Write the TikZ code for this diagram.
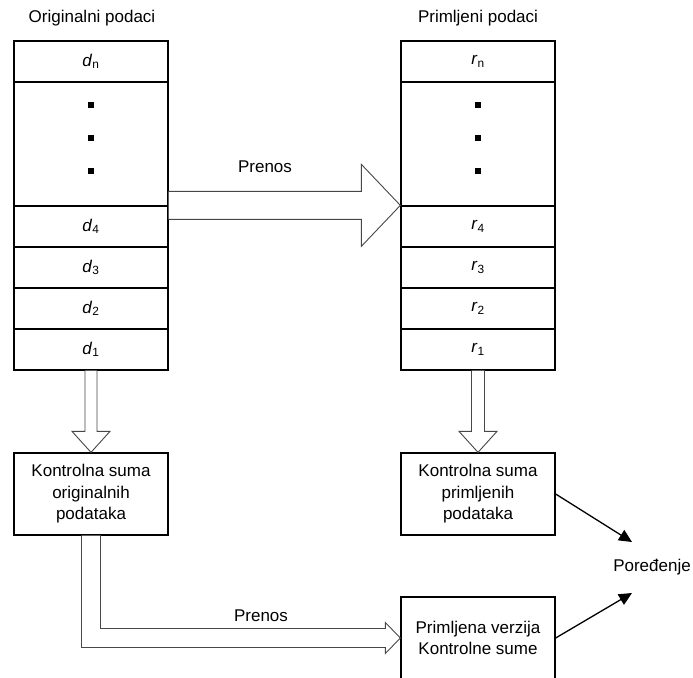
\documentclass[tikz,border=0pt]{standalone}
\usepackage{fontspec}
\setmainfont{Liberation Sans}
\usetikzlibrary{calc,arrows.meta}
\begin{document}
\begin{tikzpicture}[x=1pt,y=-1pt,
  every node/.style={font=\fontsize{17}{21.5}\selectfont},
  cell/.style={draw, line width=1.3pt, minimum width=154pt, minimum height=41pt, inner sep=0pt},
  gapcell/.style={cell, minimum height=124pt},
  sumbox/.style={draw, line width=1.3pt, minimum width=154pt, minimum height=82pt, inner sep=0pt, align=center},
  dotmark/.style={fill, minimum size=6pt, inner sep=0pt},
  label/.style={inner sep=1pt},
  hollow/.style={draw=black!72, line width=0.9pt, fill=white, line join=miter},
  cmparrow/.style={line width=1.3pt, -{Triangle[length=13pt,width=12pt]}}
]
\useasboundingbox (0,0) rectangle (693,677);

% original data column
\node[label] (torig) at (92,18) {Originalni podaci};
\node[cell]    (dn)    at (91,61.5)  {\textit{d}\textsubscript{n}};
\node[gapcell] (ddots) at (91,144)   {};
\node[cell]    (d4)    at (91,226.5) {\textit{d}\textsubscript{4}};
\node[cell]    (d3)    at (91,267.5) {\textit{d}\textsubscript{3}};
\node[cell]    (d2)    at (91,308.5) {\textit{d}\textsubscript{2}};
\node[cell]    (d1)    at (91,349.5) {\textit{d}\textsubscript{1}};
\node[dotmark] (dda) at ($(ddots.north)+(0,24)$) {};
\node[dotmark] (ddb) at ($(ddots.north)+(0,57)$) {};
\node[dotmark] (ddc) at ($(ddots.north)+(0,90)$) {};

% received data column
\node[label] (trecv) at (478,18) {Primljeni podaci};
\node[cell]    (rn)    at (478,61.5)  {\textit{r}\textsubscript{n}};
\node[gapcell] (rdots) at (478,144)   {};
\node[cell]    (r4)    at (478,226.5) {\textit{r}\textsubscript{4}};
\node[cell]    (r3)    at (478,267.5) {\textit{r}\textsubscript{3}};
\node[cell]    (r2)    at (478,308.5) {\textit{r}\textsubscript{2}};
\node[cell]    (r1)    at (478,349.5) {\textit{r}\textsubscript{1}};
\node[dotmark] (rda) at ($(rdots.north)+(0,24)$) {};
\node[dotmark] (rdb) at ($(rdots.north)+(0,57)$) {};
\node[dotmark] (rdc) at ($(rdots.north)+(0,90)$) {};

% checksum boxes
\node[sumbox] (k1) at (91,494)  {Kontrolna suma\\originalnih\\podataka};
\node[sumbox] (k2) at (478,494) {Kontrolna suma\\primljenih\\podataka};
\node[sumbox] (kp) at (478,638) {Primljena verzija\\Kontrolne sume};

\node[label] (cmp) at (652,567) {Poređenje};
\coordinate (cmpa) at (632,542);
\coordinate (cmpb) at (632,593);

% transfer of the data
\draw[hollow] ($(d4.north east)+(0,-14)$) -- ($(r4.north west)+(-39,-14)$)
  -- ($(r4.north west)+(-39,-41)$) -- (r4.north west)
  -- ($(r4.north west)+(-39,41)$) -- ($(r4.north west)+(-39,14)$)
  -- ($(d4.north east)+(0,14)$);
\node[label] (prenos1) at (265,167) {Prenos};

% checksum computation
\draw[hollow] ($(d1.south)+(-6,0)$) -- ($(k1.north)+(-6,-21)$)
  -- ($(k1.north)+(-19,-21)$) -- (k1.north)
  -- ($(k1.north)+(19,-21)$) -- ($(k1.north)+(6,-21)$)
  -- ($(d1.south)+(6,0)$);
\draw[hollow] ($(r1.south)+(-6.5,0)$) -- ($(k2.north)+(-6.5,-21)$)
  -- ($(k2.north)+(-19,-21)$) -- (k2.north)
  -- ($(k2.north)+(19,-21)$) -- ($(k2.north)+(6.5,-21)$)
  -- ($(r1.south)+(6.5,0)$);

% transfer of the checksum
\draw[hollow] ($(k1.south)+(-9.5,0)$) |- ($(kp.west)+(-15,9.5)$)
  -- ($(kp.west)+(-15,15.5)$) -- (kp.west)
  -- ($(kp.west)+(-15,-15.5)$) -- ($(kp.west)+(-15,-9.5)$)
  -| ($(k1.south)+(9.5,0)$);
\node[label] (prenos2) at (261,616) {Prenos};

% comparison
\draw[cmparrow] (k2.east) -- (cmpa);
\draw[cmparrow] (kp.east) -- (cmpb);
\end{tikzpicture}
\end{document}
